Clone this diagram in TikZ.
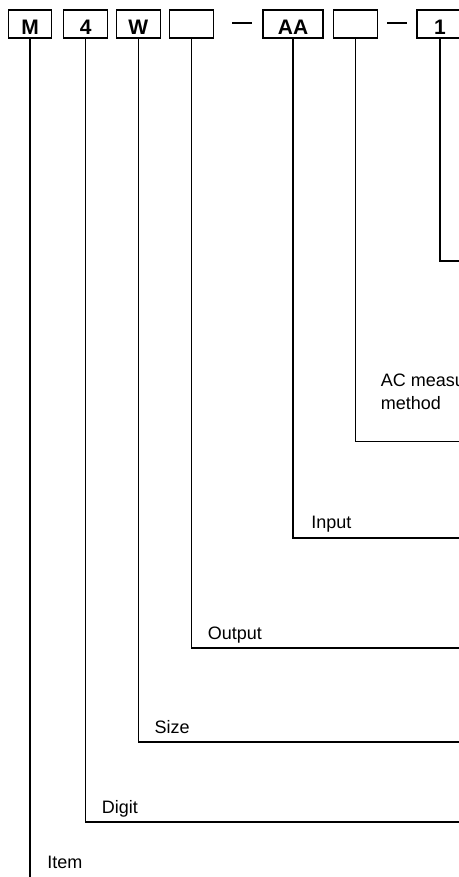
\documentclass[tikz,border=0pt]{standalone}
\usepackage{fontspec}
\setmainfont{Liberation Sans}
\usetikzlibrary{calc}

\begin{document}
\begin{tikzpicture}[x=0.75pt, y=-0.75pt,
    codebox/.style={draw, line width=0.9pt, inner sep=0pt, minimum height=21pt,
        text height=16.5pt, text depth=0pt, font=\fontsize{15.75pt}{18pt}\selectfont\bfseries},
    lead/.style={line width=0.8pt},
    sepbar/.style={line width=1.6pt},
    lbl/.style={anchor=base west, inner sep=0pt, align=left,
        font=\fontsize{13.5pt}{17.25pt}\selectfont}]
    \path[use as bounding box, clip] (0,0) rectangle (459,877);

    % Code boxes
    \node[codebox, minimum width=32.5pt] (item) at (30,24) {M};
    \node[codebox, minimum width=33pt] (digit) at (85.7,24) {4};
    \node[codebox, minimum width=33pt] (size) at (138.4,24) {W};
    \node[codebox, minimum width=32.5pt] (output) at (191.5,24) {};
    \node[codebox, minimum width=45pt] (input) at (293,24) {AA};
    \node[codebox, minimum width=33.5pt] (acmeas) at (355.5,24) {};
    \node[codebox, minimum width=34.5pt] (option) at (440,24) {1};

    % Separators
    \draw[sepbar] (232,23) -- (252,23);
    \draw[sepbar] (387,23) -- (407,23);

    % Line ends
    \coordinate (optionend) at (470,261);
    \coordinate (acmeasend) at (470,441.7);
    \coordinate (inputend) at (470,538);
    \coordinate (outputend) at (470,648);
    \coordinate (sizeend) at (470,742);
    \coordinate (digitend) at (470,822);
    \coordinate (itemend) at (30,880);

    % Leader lines
    \draw[lead] (option.south) |- (optionend);
    \draw[lead] (acmeas.south) |- (acmeasend);
    \draw[lead] (input.south) |- (inputend);
    \draw[lead] (output.south) |- (outputend);
    \draw[lead] (size.south) |- (sizeend);
    \draw[lead] (digit.south) |- (digitend);
    \draw[lead] (item.south) -- (itemend);

    % Labels
    \node[lbl] (acmeaslbl) at ($(acmeas.south |- acmeasend)+(25,-32.5)$) {AC measuring\\method};
    \node[lbl] (inputlbl) at ($(input.south |- inputend)+(18,-10)$) {Input};
    \node[lbl] (outputlbl) at ($(output.south |- outputend)+(16,-9)$) {Output};
    \node[lbl] (sizelbl) at ($(size.south |- sizeend)+(16,-9)$) {Size};
    \node[lbl] (digitlbl) at ($(digit.south |- digitend)+(16,-9)$) {Digit};
    \node[lbl] (itemlbl) at (47,868) {Item};
\end{tikzpicture}
\end{document}
